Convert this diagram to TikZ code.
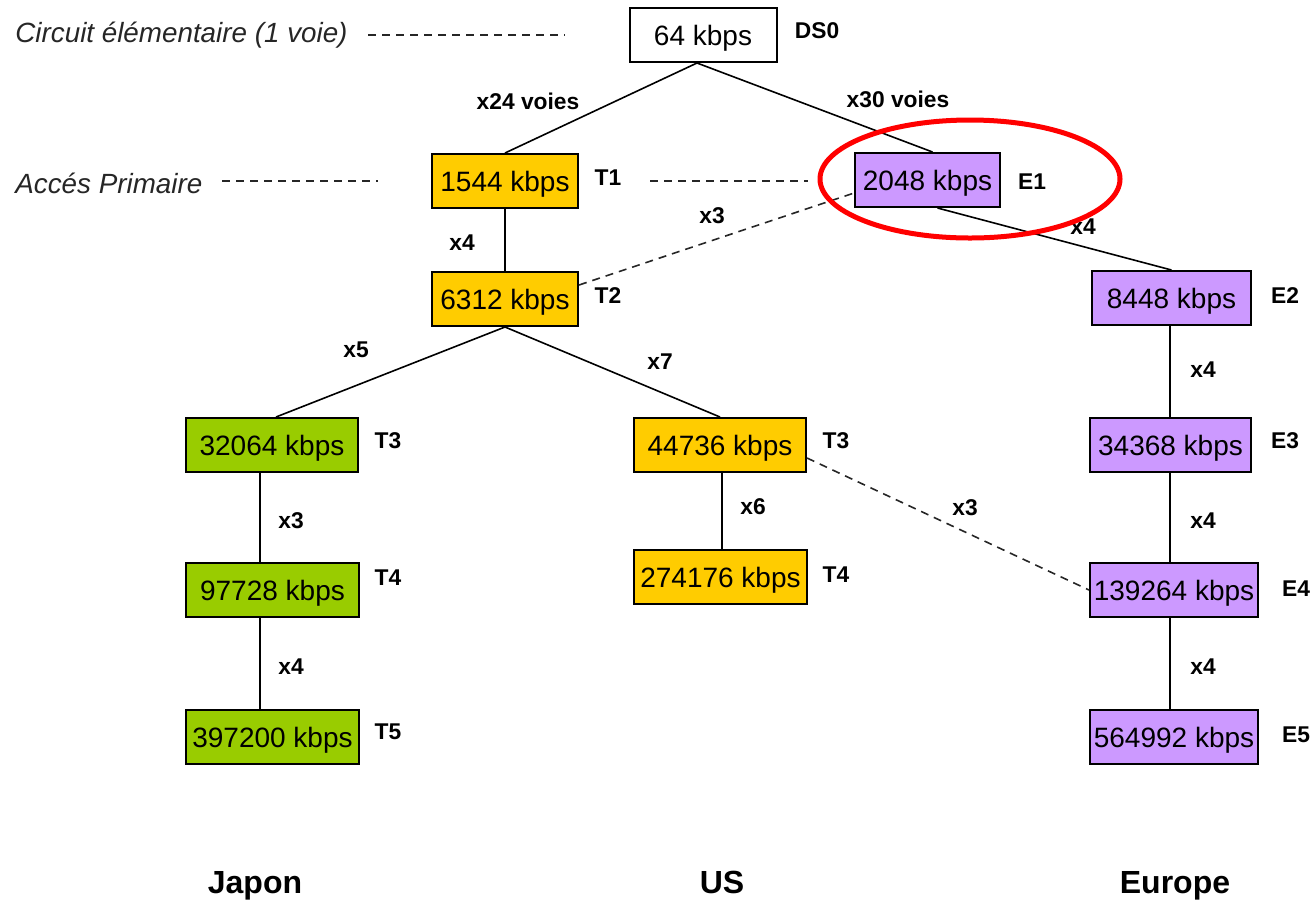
\documentclass[tikz,border=0pt]{standalone}
\usepackage{fontspec}
\setmainfont{Liberation Sans}
\definecolor{yel}{HTML}{FFCC00}
\definecolor{pur}{HTML}{CC99FF}
\definecolor{grn}{HTML}{99CC00}
\begin{document}
\begin{tikzpicture}[x=0.5pt,y=-0.5pt,
  box/.style={draw=black, line width=1pt, minimum height=27pt, inner sep=0pt, text depth=0pt, font=\fontsize{14}{16}\selectfont},
  lbl/.style={font=\bfseries\fontsize{11.4}{13}\selectfont, inner sep=0pt},
  ital/.style={font=\itshape\fontsize{13.9}{16}\selectfont, inner sep=0pt, text=black!85},
  big/.style={font=\bfseries\fontsize{16}{18}\selectfont, inner sep=0pt, anchor=base},
  conn/.style={line width=0.8pt},
  dsh/.style={line width=0.8pt, dash pattern=on 4pt off 3pt, black!85}]
\useasboundingbox (0,0) rectangle (1316,901);
% boxes
\node[box, fill=white, minimum width=73.5pt] (ds0) at (703,35) {64 kbps};
\node[box, fill=yel, minimum width=73pt] (t1) at (505,181) {1544 kbps};
\node[box, fill=pur, minimum width=72.5pt] (e1) at (927.5,180) {2048 kbps};
\node[box, fill=yel, minimum width=73pt] (t2) at (505,299) {6312 kbps};
\node[box, fill=pur, minimum width=79.5pt] (e2) at (1171.5,298) {8448 kbps};
\node[box, fill=grn, minimum width=86pt] (jt3) at (272,445) {32064 kbps};
\node[box, fill=yel, minimum width=86pt] (ut3) at (720,445) {44736 kbps};
\node[box, fill=pur, minimum width=80.5pt] (e3) at (1170.5,445) {34368 kbps};
\node[box, fill=grn, minimum width=86.5pt] (jt4) at (272.5,590) {97728 kbps};
\node[box, fill=yel, minimum width=86.5pt] (ut4) at (720.5,577) {274176 kbps};
\node[box, fill=pur, minimum width=84pt] (e4) at (1174,590) {139264 kbps};
\node[box, fill=grn, minimum width=86.5pt] (jt5) at (272.5,737) {397200 kbps};
\node[box, fill=pur, minimum width=84pt] (e5) at (1174,737) {564992 kbps};
% connectors
\draw[conn] ([xshift=-3pt]ds0.south) -- (t1.north);
\draw[conn] ([xshift=-3pt]ds0.south) -- ([xshift=2.5pt]e1.north);
\draw[conn] ([xshift=5pt]e1.south) -- (e2.north);
\draw[conn] (t1.south) -- (t2.north);
\draw[conn] (t2.south) -- ([xshift=2pt]jt3.north);
\draw[conn] (t2.south) -- (ut3.north);
\draw[conn] ([xshift=-6pt]jt3.south) -- ([xshift=-6.25pt]jt4.north);
\draw[conn] ([xshift=-6.25pt]jt4.south) -- ([xshift=-6.25pt]jt5.north);
\draw[conn] ([xshift=1pt]ut3.south) -- ([xshift=0.75pt]ut4.north);
\draw[conn] ([xshift=-0.75pt]e2.south) -- ([xshift=-0.25pt]e3.north);
\draw[conn] ([xshift=-0.25pt]e3.south) -- ([xshift=-2pt]e4.north);
\draw[conn] ([xshift=-2pt]e4.south) -- ([xshift=-2pt]e5.north);
% dashed
\draw[dsh] ([yshift=7pt]t2.east) -- ([yshift=-6.5pt]e1.west);
\draw[dsh] ([yshift=-6.5pt]ut3.east) -- (e4.west);
\coordinate (d1a) at (368,35); \coordinate (d1b) at (565,35);
\coordinate (d2a) at (222,181); \coordinate (d2b) at (378,181);
\coordinate (d3a) at (650,181); \coordinate (d3b) at (808,181);
\draw[dsh] (d1a) -- (d1b);
\draw[dsh] (d2a) -- (d2b);
\draw[dsh] (d3a) -- (d3b);
% level labels
\node[lbl] (lds0) at (817,31) {DS0};
\node[lbl] (lt1) at (608,178) {T1};
\node[lbl] (le1) at (1032,182) {E1};
\node[lbl] (lt2) at (608,296) {T2};
\node[lbl] (le2) at (1285,296) {E2};
\node[lbl] (ljt3) at (388,441) {T3};
\node[lbl] (lut3) at (836,441) {T3};
\node[lbl] (le3) at (1285,441) {E3};
\node[lbl] (ljt4) at (388,578) {T4};
\node[lbl] (lut4) at (836,575) {T4};
\node[lbl] (le4) at (1296,589) {E4};
\node[lbl] (ljt5) at (388,732) {T5};
\node[lbl] (le5) at (1296,735) {E5};
% multiplier labels
\node[lbl] (m1) at (528,101) {x24 voies};
\node[lbl] (m2) at (898,99) {x30 voies};
\node[lbl] (m3) at (462,243) {x4};
\node[lbl] (m4) at (712,216) {x3};
\node[lbl] (m5) at (1083,227) {x4};
\node[lbl] (m6) at (356,350) {x5};
\node[lbl] (m7) at (660,362) {x7};
\node[lbl] (m8) at (1203,370) {x4};
\node[lbl] (m9) at (291,521) {x3};
\node[lbl] (m10) at (753,507) {x6};
\node[lbl] (m11) at (965,508) {x3};
\node[lbl] (m12) at (1203,521) {x4};
\node[lbl] (m13) at (291,667) {x4};
\node[lbl] (m14) at (1203,667) {x4};
% side labels
\node[ital, anchor=west] (circ) at (15,35) {Circuit élémentaire (1 voie)};
\node[ital, anchor=west] (acc) at (15,183) {Accés Primaire};
% bottom labels
\node[big] (jap) at (255,893) {Japon};
\node[big] (us) at (722,893) {US};
\node[big] (eur) at (1175,893) {Europe};
% red ellipse
\draw[red, line width=2.5pt] (970,179) ellipse [x radius=150, y radius=59];
\end{tikzpicture}
\end{document}
